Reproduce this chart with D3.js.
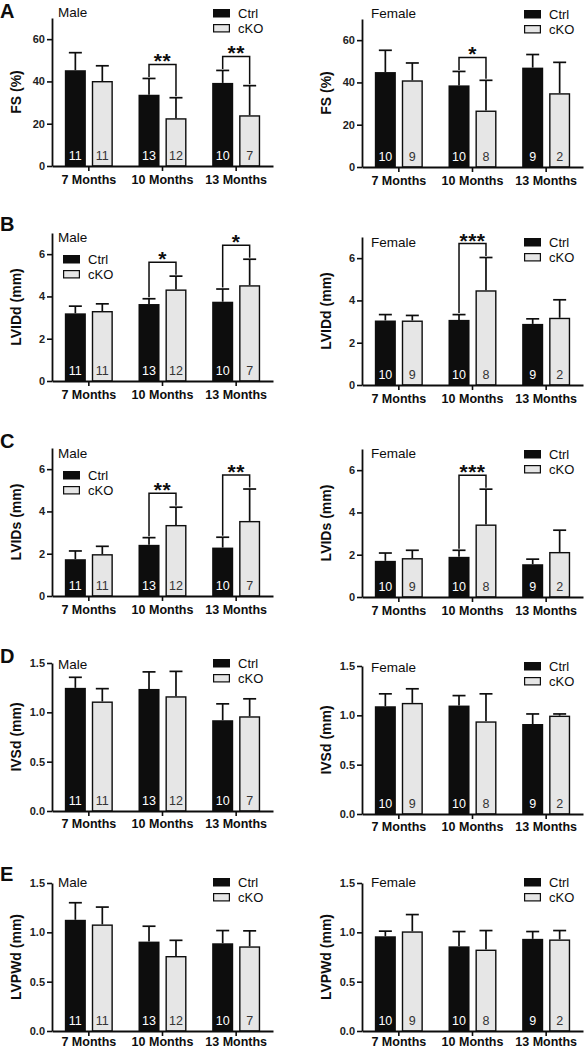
<!DOCTYPE html>
<html>
<head>
<meta charset="utf-8">
<script src="https://cdn.jsdelivr.net/npm/d3@7"></script>
<style>
  html, body { margin: 0; padding: 0; background: #fff; }
  svg { display: block; }
  text { font-family: "Liberation Sans", Arial, Helvetica, sans-serif; }
</style>
</head>
<body>
<div id="chart"></div>
<script>
// ---------------- DATA ----------------
const months = ["7 Months", "10 Months", "13 Months"];
const groups = ["Ctrl", "cKO"];
const sexes = ["Male", "Female"];
const panelLetters = ["A", "B", "C", "D", "E"];
const yLabels = ["FS (%)", "LVIDd (mm)", "LVIDs (mm)", "IVSd (mm)", "LVPWd (mm)"];

// y-axis ticks per row
const ticksFS = [0, 20, 40, 60];
const ticksLVID = [0, 2, 4, 6];
const ticksWall = [0, 0.5, 1.0, 1.5];
const yMaxFS = 70, yMaxLVID = 7, yMaxWall = 1.5;

// n per bar
const nMaleCtrl = [11, 13, 10];
const nMaleCKO = [11, 12, 7];
const nFemaleCtrl = [10, 10, 9];
const nFemaleCKO = [9, 8, 2];

// FS (%)
const fsMaleCtrl = [45.3, 33.7, 39.3];
const fsMaleCtrlErr = [8.3, 7.7, 5.9];
const fsMaleCKO = [40.2, 22.6, 24.0];
const fsMaleCKOErr = [7.2, 9.7, 14.0];
const fsFemaleCtrl = [44.9, 38.6, 47.0];
const fsFemaleCtrlErr = [10.3, 6.6, 6.2];
const fsFemaleCKO = [41.0, 26.7, 34.9];
const fsFemaleCKOErr = [8.2, 14.3, 14.6];

// LVIDd (mm)
const lviddMaleCtrl = [3.2, 3.64, 3.75];
const lviddMaleCtrlErr = [0.34, 0.25, 0.6];
const lviddMaleCKO = [3.31, 4.33, 4.53];
const lviddMaleCKOErr = [0.34, 0.63, 1.23];
const lviddFemaleCtrl = [3.05, 3.08, 2.89];
const lviddFemaleCtrlErr = [0.28, 0.25, 0.24];
const lviddFemaleCKO = [3.05, 4.48, 3.18];
const lviddFemaleCKOErr = [0.24, 1.55, 0.85];

// LVIDs (mm)
const lvidsMaleCtrl = [1.74, 2.42, 2.29];
const lvidsMaleCtrlErr = [0.39, 0.34, 0.49];
const lvidsMaleCKO = [1.98, 3.36, 3.55];
const lvidsMaleCKOErr = [0.37, 0.84, 1.51];
const lvidsFemaleCtrl = [1.71, 1.9, 1.55];
const lvidsFemaleCtrlErr = [0.37, 0.31, 0.24];
const lvidsFemaleCKO = [1.84, 3.43, 2.13];
const lvidsFemaleCKOErr = [0.37, 1.67, 1.03];

// IVSd (mm)
const ivsdMaleCtrl = [1.248, 1.237, 0.92];
const ivsdMaleCtrlErr = [0.107, 0.173, 0.166];
const ivsdMaleCKO = [1.11, 1.163, 0.96];
const ivsdMaleCKOErr = [0.13, 0.252, 0.177];
const ivsdFemaleCtrl = [1.092, 1.099, 0.912];
const ivsdFemaleCtrlErr = [0.126, 0.101, 0.102];
const ivsdFemaleCKO = [1.126, 0.939, 0.997];
const ivsdFemaleCKOErr = [0.143, 0.279, 0.017];

// LVPWd (mm)
const lvpwdMaleCtrl = [1.127, 0.906, 0.889];
const lvpwdMaleCtrlErr = [0.173, 0.156, 0.129];
const lvpwdMaleCKO = [1.08, 0.76, 0.858];
const lvpwdMaleCKOErr = [0.176, 0.159, 0.157];
const lvpwdFemaleCtrl = [0.96, 0.858, 0.934];
const lvpwdFemaleCtrlErr = [0.052, 0.15, 0.074];
const lvpwdFemaleCKO = [1.01, 0.825, 0.928];
const lvpwdFemaleCKOErr = [0.17, 0.193, 0.09];

// significance (month index -> stars)
const sigFSMale = [[1, "**"], [2, "**"]];
const sigFSFemale = [[1, "*"]];
const sigLVIDdMale = [[1, "*"], [2, "*"]];
const sigLVIDdFemale = [[1, "***"]];
const sigLVIDsMale = [[1, "**"], [2, "**"]];
const sigLVIDsFemale = [[1, "***"]];

// ---------------- LAYOUT ----------------
const W = 586, H = 1050;
const PW = 221, PH = 148;
const xLeft = [52, 362];
const FONT = '"Liberation Sans", Arial, Helvetica, sans-serif';

const rows = [
  { ticks: ticksFS, yMax: yMaxFS, fmt: d3.format("d"),
    tops: [18, 19], letterY: 18, xPad: 4,
    legend: [[161, -9], [162, -9]], sexY: [-1, -1],
    data: [
      { ctrl: fsMaleCtrl, ctrlErr: fsMaleCtrlErr, cko: fsMaleCKO, ckoErr: fsMaleCKOErr, nC: nMaleCtrl, nK: nMaleCKO, sig: sigFSMale },
      { ctrl: fsFemaleCtrl, ctrlErr: fsFemaleCtrlErr, cko: fsFemaleCKO, ckoErr: fsFemaleCKOErr, nC: nFemaleCtrl, nK: nFemaleCKO, sig: sigFSFemale }
    ] },
  { ticks: ticksLVID, yMax: yMaxLVID, fmt: d3.format("d"),
    tops: [233, 237], letterY: 231, xPad: 4,
    legend: [[11, 22], [162, 1]], sexY: [9, 10],
    data: [
      { ctrl: lviddMaleCtrl, ctrlErr: lviddMaleCtrlErr, cko: lviddMaleCKO, ckoErr: lviddMaleCKOErr, nC: nMaleCtrl, nK: nMaleCKO, sig: sigLVIDdMale },
      { ctrl: lviddFemaleCtrl, ctrlErr: lviddFemaleCtrlErr, cko: lviddFemaleCKO, ckoErr: lviddFemaleCKOErr, nC: nFemaleCtrl, nK: nFemaleCKO, sig: sigLVIDdFemale }
    ] },
  { ticks: ticksLVID, yMax: yMaxLVID, fmt: d3.format("d"),
    tops: [448, 449], letterY: 448, xPad: 4,
    legend: [[11, 23], [162, 1]], sexY: [10, 9],
    data: [
      { ctrl: lvidsMaleCtrl, ctrlErr: lvidsMaleCtrlErr, cko: lvidsMaleCKO, ckoErr: lvidsMaleCKOErr, nC: nMaleCtrl, nK: nMaleCKO, sig: sigLVIDsMale },
      { ctrl: lvidsFemaleCtrl, ctrlErr: lvidsFemaleCtrlErr, cko: lvidsFemaleCKO, ckoErr: lvidsFemaleCKOErr, nC: nFemaleCtrl, nK: nFemaleCKO, sig: sigLVIDsFemale }
    ] },
  { ticks: ticksWall, yMax: yMaxWall, fmt: d3.format(".1f"),
    tops: [663, 666], letterY: 663, xPad: 3,
    legend: [[161, -4], [162, -4]], sexY: [6, 6],
    data: [
      { ctrl: ivsdMaleCtrl, ctrlErr: ivsdMaleCtrlErr, cko: ivsdMaleCKO, ckoErr: ivsdMaleCKOErr, nC: nMaleCtrl, nK: nMaleCKO, sig: [] },
      { ctrl: ivsdFemaleCtrl, ctrlErr: ivsdFemaleCtrlErr, cko: ivsdFemaleCKO, ckoErr: ivsdFemaleCKOErr, nC: nFemaleCtrl, nK: nFemaleCKO, sig: [] }
    ] },
  { ticks: ticksWall, yMax: yMaxWall, fmt: d3.format(".1f"),
    tops: [883, 883], letterY: 881, xPad: 1,
    legend: [[161, -5], [162, -5]], sexY: [4, 4],
    data: [
      { ctrl: lvpwdMaleCtrl, ctrlErr: lvpwdMaleCtrlErr, cko: lvpwdMaleCKO, ckoErr: lvpwdMaleCKOErr, nC: nMaleCtrl, nK: nMaleCKO, sig: [] },
      { ctrl: lvpwdFemaleCtrl, ctrlErr: lvpwdFemaleCtrlErr, cko: lvpwdFemaleCKO, ckoErr: lvpwdFemaleCKOErr, nC: nFemaleCtrl, nK: nFemaleCKO, sig: [] }
    ] }
];

const BLACK = "#0d0d0d", LIGHT = "#e6e6e6";

const svg = d3.select("#chart").append("svg")
  .attr("width", W).attr("height", H)
  .attr("viewBox", `0 0 ${W} ${H}`);

rows.forEach((row, ri) => {
  // panel letter
  svg.append("text")
    .attr("x", 0).attr("y", row.letterY)
    .attr("font-size", 20).attr("font-weight", "bold").attr("fill", BLACK)
    .text(panelLetters[ri]);

  row.data.forEach((d, si) => {
    const x0 = xLeft[si];
    const top = row.tops[si];
    const bottom = top + PH;
    const g = svg.append("g");

    const x = d3.scaleBand().domain(months).range([x0, x0 + PW]).padding(0);
    const xi = d3.scaleBand().domain(groups).range([-24, 24]).paddingInner(0.22);
    const y = d3.scaleLinear().domain([0, row.yMax]).range([bottom, top]);

    const bars = [];
    months.forEach((m, i) => {
      bars.push({ m, i, grp: "Ctrl", v: d.ctrl[i], e: d.ctrlErr[i], n: d.nC[i] });
      bars.push({ m, i, grp: "cKO", v: d.cko[i], e: d.ckoErr[i], n: d.nK[i] });
    });
    const cx = b => x(b.m) + x.bandwidth() / 2 + xi(b.grp) + xi.bandwidth() / 2;

    // error bars (upper only)
    bars.forEach(b => {
      const c = cx(b);
      g.append("line").attr("x1", c).attr("x2", c)
        .attr("y1", y(b.v)).attr("y2", y(b.v + b.e))
        .attr("stroke", BLACK).attr("stroke-width", 1.7);
      g.append("line").attr("x1", c - 6.5).attr("x2", c + 6.5)
        .attr("y1", y(b.v + b.e)).attr("y2", y(b.v + b.e))
        .attr("stroke", BLACK).attr("stroke-width", 1.7);
    });

    // bars
    g.selectAll("rect.bar").data(bars).enter().append("rect")
      .attr("class", "bar")
      .attr("x", b => x(b.m) + x.bandwidth() / 2 + xi(b.grp) + (b.grp === "cKO" ? 0.7 : 0))
      .attr("width", b => xi.bandwidth() - (b.grp === "cKO" ? 1.4 : 0))
      .attr("y", b => y(b.v) + (b.grp === "cKO" ? 0.7 : 0))
      .attr("height", b => bottom - y(b.v) - (b.grp === "cKO" ? 0.7 : 0))
      .attr("fill", b => b.grp === "Ctrl" ? BLACK : LIGHT)
      .attr("stroke", b => b.grp === "Ctrl" ? "none" : BLACK)
      .attr("stroke-width", 1.4);

    // n labels
    g.selectAll("text.n").data(bars).enter().append("text")
      .attr("class", "n")
      .attr("x", b => cx(b)).attr("y", bottom - 6)
      .attr("text-anchor", "middle")
      .attr("font-size", 12.5)
      .attr("fill", b => b.grp === "Ctrl" ? "#fff" : "#333")
      .text(b => b.n);

    // significance brackets
    d.sig.forEach(([mi, stars]) => {
      const bc = bars.find(b => b.i === mi && b.grp === "Ctrl");
      const bk = bars.find(b => b.i === mi && b.grp === "cKO");
      const xc = cx(bc), xk = cx(bk);
      const yc = y(bc.v + bc.e), yk = y(bk.v + bk.e);
      const yt = Math.min(yc, yk) - 14;
      g.append("path")
        .attr("d", `M${xc},${yc - 1.5}V${yt}H${xk}V${yk - 1.5}`)
        .attr("fill", "none").attr("stroke", BLACK).attr("stroke-width", 1.5);
      g.append("text")
        .attr("x", (xc + xk) / 2).attr("y", yt + 4)
        .attr("text-anchor", "middle")
        .attr("font-size", 21).attr("font-weight", "bold").attr("fill", BLACK)
        .attr("letter-spacing", 0.5)
        .text(stars);
    });

    // y axis
    const ya = g.append("g").attr("transform", `translate(${x0},0)`)
      .call(d3.axisLeft(y).tickValues(row.ticks).tickFormat(row.fmt).tickSize(5).tickSizeOuter(0).tickPadding(2));
    ya.select(".domain").attr("stroke", BLACK).attr("stroke-width", 1.8);
    ya.selectAll(".tick line").attr("stroke", BLACK).attr("stroke-width", 1.6);
    ya.selectAll(".tick text").attr("font-family", FONT).attr("font-size", 11)
      .attr("font-weight", "bold").attr("fill", "#222");

    // x axis
    const xa = g.append("g").attr("transform", `translate(0,${bottom})`)
      .call(d3.axisBottom(x).tickSize(5).tickSizeOuter(0).tickPadding(row.xPad));
    xa.select(".domain").attr("stroke", BLACK).attr("stroke-width", 1.8);
    xa.selectAll(".tick line").attr("stroke", BLACK).attr("stroke-width", 1.6);
    xa.selectAll(".tick text").attr("font-family", FONT).attr("font-size", 12.5)
      .attr("font-weight", "bold").attr("fill", BLACK);

    // y label
    g.append("text")
      .attr("transform", `translate(${x0 - 31},${(top + bottom) / 2}) rotate(-90)`)
      .attr("text-anchor", "middle")
      .attr("font-size", 14).attr("font-weight", "bold").attr("fill", BLACK)
      .text(yLabels[ri]);

    // sex label
    g.append("text")
      .attr("x", x0 + (si === 0 ? 6 : 9)).attr("y", top + row.sexY[si])
      .attr("font-size", 13.5).attr("fill", BLACK)
      .text(sexes[si]);

    // legend
    const lx = x0 + row.legend[si][0], ly = top + row.legend[si][1];
    groups.forEach((grp, k) => {
      const yy = ly + k * 15;
      g.append("rect")
        .attr("x", lx + (grp === "cKO" ? 0.6 : 0)).attr("y", yy + (grp === "cKO" ? 0.6 : 0))
        .attr("width", 17 - (grp === "cKO" ? 1.2 : 0)).attr("height", 8.5 - (grp === "cKO" ? 1.2 : 0))
        .attr("fill", grp === "Ctrl" ? BLACK : LIGHT)
        .attr("stroke", grp === "Ctrl" ? "none" : BLACK).attr("stroke-width", 1.2);
      g.append("text")
        .attr("x", lx + 25).attr("y", yy + 9)
        .attr("font-size", 13).attr("fill", BLACK)
        .text(grp);
    });
  });
});
</script>
</body>
</html>
